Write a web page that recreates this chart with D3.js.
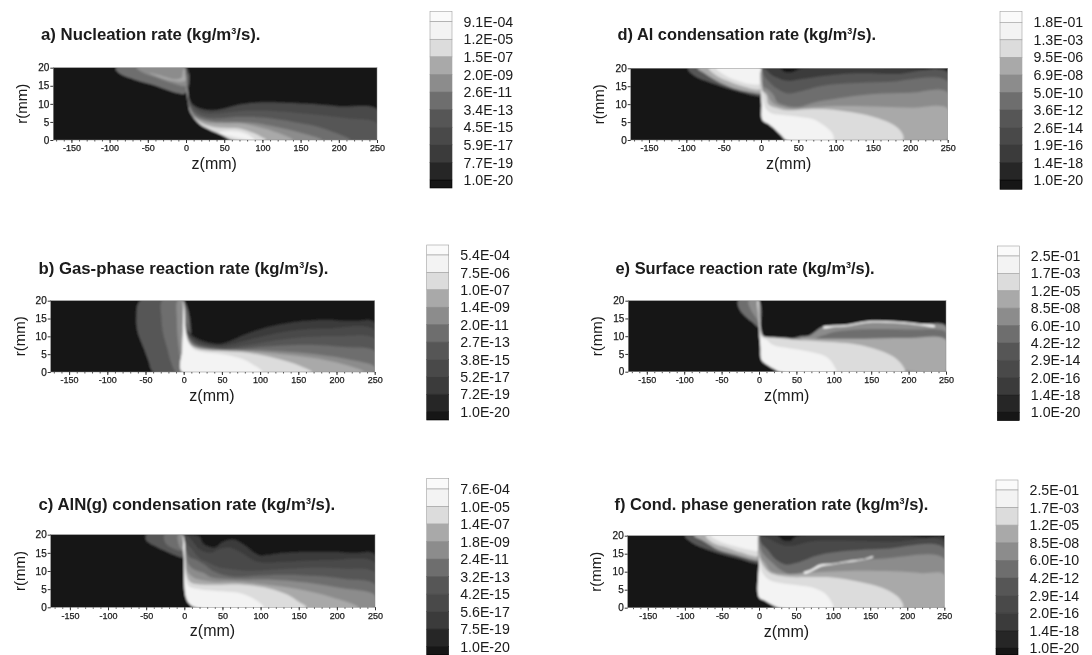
<!DOCTYPE html>
<html>
<head>
<meta charset="utf-8">
<script src="https://cdn.jsdelivr.net/npm/d3@7"></script>
<style>
  html, body { margin: 0; background: #fff; }
  text { font-family: "Liberation Sans", Arial, sans-serif; fill: #1a1a1a; }
</style>
</head>
<body>
<div id="chart"></div>
<script>
const zTicks = [-150, -100, -50, 0, 50, 100, 150, 200, 250];
const zMinor = d3.range(-170, 251, 10);
const rTicks = [0, 5, 10, 15, 20];

// grey of each band, darkest (below the lowest label) to lightest
const shades = ['#121212', '#252525', '#3b3b3b', '#494949', '#575757', '#6e6e6e', '#8c8c8c', '#a9a9a9', '#dcdcdc', '#f3f3f3', '#fafafa'];

const labelsA = ['9.1E-04', '1.2E-05', '1.5E-07', '2.0E-09', '2.6E-11', '3.4E-13', '4.5E-15', '5.9E-17', '7.7E-19', '1.0E-20'];
const labelsB = ['5.4E-04', '7.5E-06', '1.0E-07', '1.4E-09', '2.0E-11', '2.7E-13', '3.8E-15', '5.2E-17', '7.2E-19', '1.0E-20'];
const labelsC = ['7.6E-04', '1.0E-05', '1.4E-07', '1.8E-09', '2.4E-11', '3.2E-13', '4.2E-15', '5.6E-17', '7.5E-19', '1.0E-20'];
const labelsD = ['1.8E-01', '1.3E-03', '9.5E-06', '6.9E-08', '5.0E-10', '3.6E-12', '2.6E-14', '1.9E-16', '1.4E-18', '1.0E-20'];
const labelsE = ['2.5E-01', '1.7E-03', '1.2E-05', '8.5E-08', '6.0E-10', '4.2E-12', '2.9E-14', '2.0E-16', '1.4E-18', '1.0E-20'];
const labelsF = ['2.5E-01', '1.7E-03', '1.2E-05', '8.5E-08', '6.0E-10', '4.2E-12', '2.9E-14', '2.0E-16', '1.4E-18', '1.0E-20'];

const titleA = 'a) Nucleation rate (kg/m';
const titleB = 'b) Gas-phase reaction rate (kg/m';
const titleC = 'c) AlN(g) condensation rate (kg/m';
const titleD = 'd) Al condensation rate (kg/m';
const titleE = 'e) Surface reaction rate (kg/m';
const titleF = 'f) Cond. phase generation rate (kg/m';

// contours: [band, [[z, r], ...]]
// "front" is the left edge of the burning zone, the "right" contours close along it
const frontA = [[0, 20], [0.5, 16], [2, 13], [3, 10.5], [6, 8], [10, 6.2], [15, 5], [22, 3.8], [30, 3], [38, 2.2], [46, 1.5], [52, 0.8], [60, 0]];
const leftA = [
  [5, [[-92, 20], [-88, 18.5], [-65, 16.5], [-40, 15], [-12, 13], [0, 13], [0, 20]]],
  [6, [[-65, 20], [-55, 18.5], [-35, 17], [-14, 15.5], [0, 15], [0, 20]]],
  [7, [[-48, 18.5], [-30, 17.6], [-15, 16.8], [-6, 17.2], [-3, 19.6], [0, 19.6], [0, 16.5], [-12, 16.2], [-30, 17]]]
];
const rightA = [
  [3, [[1.5, 20], [2.5, 15], [4, 12], [8, 10], [15, 9], [25, 8.4], [40, 8.3], [55, 9], [70, 9.8], [90, 10.3], [120, 10.4], [160, 10], [200, 9.3], [250, 8.5], [250, 0]]],
  [4, [[1.5, 16], [5, 10.5], [12, 8.5], [25, 7.3], [40, 7.3], [55, 7.6], [80, 8.1], [120, 7.9], [170, 7], [210, 6], [250, 4.6], [250, 0]]],
  [5, [[1.5, 15], [5, 9.5], [12, 7.5], [25, 6.2], [45, 6], [70, 6.4], [100, 6.2], [140, 5], [170, 3.8], [195, 2], [215, 0]]],
  [6, [[1, 15], [4, 9.5], [10, 7], [20, 5.8], [40, 5], [60, 5], [90, 4.7], [120, 3.5], [150, 2], [178, 0]]],
  [7, [[1, 15], [3, 10.5], [7, 7.6], [14, 6], [25, 5], [45, 4.6], [70, 4.6], [95, 3.6], [120, 2], [140, 0]]],
  [8, [[0.5, 15], [2.5, 11], [5, 8], [10, 6.3], [20, 4.7], [35, 3.7], [50, 3.4], [70, 3.2], [85, 2.2], [98, 1], [105, 0]]],
  [9, [[42, 2], [60, 2.5], [75, 2], [85, 1], [90, 0]]]
];

const frontB = [[0, 20], [-1, 12], [-2, 6], [-2, 0]];
const leftB = [
  [4, [[-57, 20], [-62, 15], [-60, 11], [-52, 6.5], [-46, 3], [-40, 0], [0, 0], [0, 20]]],
  [5, [[-28, 20], [-29, 15], [-27, 11], [-22, 7], [-17, 3], [-10, 0], [0, 0], [0, 20]]],
  [6, [[-8, 20], [-9, 15], [-8, 10], [-6, 6], [-4, 3], [-3, 0], [0, 0], [0, 20]]]
];
const rightB = [
  [2, [[1, 20], [3, 14], [6, 11.5], [14, 9.8], [30, 8.4], [47, 7.9], [60, 8.6], [80, 10.5], [110, 12.6], [140, 13.9], [180, 14.6], [220, 14.3], [250, 13.9], [250, 0]]],
  [3, [[1, 20], [3, 13.5], [7, 10.5], [15, 9], [30, 7.8], [50, 7.4], [70, 8.2], [100, 9.9], [140, 11.6], [190, 12.3], [250, 11.8], [250, 0]]],
  [4, [[1, 20], [3, 12.5], [7, 10], [15, 8.3], [30, 7.3], [55, 6.8], [80, 7.4], [110, 8.5], [150, 9.6], [200, 10], [250, 9.3], [250, 0]]],
  [5, [[1, 18], [3, 12], [7, 9.6], [15, 7.8], [30, 6.9], [60, 6.4], [90, 6.8], [130, 7.4], [170, 7.6], [210, 7], [250, 5.8], [250, 0]]],
  [6, [[1, 17], [2, 12], [6, 9.5], [14, 7.5], [30, 6.6], [60, 6.1], [100, 6.1], [140, 5.6], [180, 4.8], [215, 3.6], [250, 1.5], [250, 0]]],
  [7, [[1, 16], [2, 11.5], [5, 9], [12, 7.3], [30, 6.4], [70, 6], [105, 5.5], [145, 4.6], [185, 3.4], [215, 1.8], [236, 0]]],
  [8, [[1.5, 14], [4, 9.8], [10, 7.4], [20, 6.4], [50, 5.9], [75, 5.6], [105, 4.6], [135, 3], [155, 1.5], [168, 0]]],
  [9, [[1, 18], [3, 11], [7, 8], [13, 6.4], [25, 5.6], [50, 5], [75, 3.8], [90, 2.2], [103, 0]]]
];

const frontC = [[-2, 20], [-0.5, 14], [0, 7], [2, 3], [6, 1.2], [15, 0]];
const leftC = [
  [4, [[-50, 20], [-50, 18.5], [-40, 17], [-20, 15], [-4, 13.7], [0, 13.7], [0, 20]]],
  [5, [[-26, 20], [-24, 17.5], [-12, 16], [-3, 15.5], [0, 15.5], [0, 20]]],
  [6, [[-8, 20], [-8, 18], [-4, 16], [0, 16], [0, 20]]]
];
const rightC = [
  [2, [[3, 20], [20, 19.5], [25, 17.5], [40, 16.5], [50, 18], [65, 18.7], [80, 17], [92, 15], [100, 14.3], [130, 15], [180, 15.3], [220, 15], [250, 14.5], [250, 0]]],
  [3, [[2, 20], [10, 18.5], [20, 16], [35, 15], [45, 16], [60, 16.5], [75, 15], [90, 13], [100, 12.4], [140, 12.6], [190, 13], [250, 12.3], [250, 0]]],
  [4, [[2, 18], [10, 16], [20, 13.5], [35, 12], [45, 11], [60, 10.5], [85, 10], [120, 10.4], [170, 10.9], [210, 10.6], [250, 9.5], [250, 0]]],
  [5, [[1, 17], [6, 14], [16, 13], [28, 11.5], [35, 10.3], [50, 9], [70, 8.4], [95, 8.7], [130, 9], [175, 8.6], [210, 7.8], [250, 6.3], [250, 0]]],
  [6, [[1, 16], [5, 12], [12, 10.5], [25, 9.5], [35, 8.3], [55, 7.8], [80, 7.6], [115, 7.6], [160, 6.8], [205, 5.3], [250, 3.3], [250, 0]]],
  [7, [[1, 15], [4, 10], [12, 8.2], [22, 7.5], [40, 7], [70, 7], [105, 6.3], [150, 5], [190, 3], [228, 0]]],
  [8, [[1, 14], [3, 9], [8, 7], [16, 6.4], [40, 6.2], [75, 6.3], [105, 5.5], [135, 3.5], [150, 1.5], [160, 0]]],
  [9, [[0.5, 18], [2, 8], [6, 5.8], [20, 5], [50, 4.4], [75, 3.8], [92, 2.2], [104, 0]]]
];

const frontD = [[1, 20], [0, 14], [1, 10], [2, 5.6], [10, 4.5], [20, 2.8], [28, 1.2], [34, 0]];
const leftD = [
  [4, [[-98, 20], [-90, 18], [-60, 15.5], [-30, 13.5], [-6, 12.3], [0, 12.3], [0, 20]]],
  [7, [[-85, 20], [-75, 18.5], [-55, 16], [-30, 14], [-5, 13], [0, 13], [0, 20]]],
  [8, [[-70, 20], [-60, 18], [-45, 16.5], [-25, 15], [0, 14.3], [0, 20]]],
  [9, [[-60, 20], [-50, 18.3], [-35, 16.8], [-15, 15.6], [2, 15.8], [2, 20]]]
];
const rightD = [
  [2, [[3, 20], [25, 20], [32, 19], [42, 19], [55, 20], [200, 20], [225, 19.4], [250, 19.2], [250, 0]]],
  [4, [[4, 20], [12, 18.5], [20, 17.5], [35, 16.5], [55, 17], [90, 18], [130, 18.6], [180, 18.4], [250, 18.8], [250, 0]]],
  [5, [[4, 18], [12, 16], [20, 14.5], [35, 13], [50, 13.4], [80, 15], [120, 15.8], [170, 16.2], [250, 16.3], [250, 0]]],
  [6, [[3, 15], [10, 14], [17, 12.5], [22, 10.5], [35, 9.5], [50, 9.2], [70, 10.4], [100, 11.5], [150, 12.8], [200, 13.2], [250, 13.3], [250, 0]]],
  [7, [[2, 14], [8, 13], [13, 11], [20, 9.8], [33, 9], [45, 8.7], [70, 9.2], [110, 9.5], [160, 9.3], [200, 9], [250, 8.8], [250, 0]]],
  [8, [[1, 14], [7, 12.5], [10, 10], [20, 9], [35, 8.3], [60, 8.6], [90, 8.6], [120, 7.8], [150, 6.5], [175, 4.5], [188, 2.2], [190, 0]]],
  [9, [[1, 13], [4, 10], [7, 8.6], [15, 7.4], [30, 7], [50, 6.5], [70, 5.8], [85, 4], [95, 2], [97, 0]]]
];

const frontE = [[0, 20], [0, 12.7], [2, 7], [3.5, 3.3], [12, 1.8], [20, 0.8], [28, 0]];
const leftE = [
  [5, [[-28, 20], [-26, 17.5], [-18, 15.5], [-8, 13.8], [0, 12.5], [0, 20]]],
  [6, [[-14, 20], [-11, 17.5], [-5, 15.5], [0, 14], [0, 20]]],
  [8, [[-2, 20], [-1.5, 17], [0, 15], [0, 20]]]
];
const rightE = [
  [6, [[0.5, 20], [1.5, 15], [4, 11], [6, 10], [19, 9.7], [35, 9.6], [46, 9.4], [55, 9.9], [68, 10.3], [86, 12.7], [117, 13.1], [144, 14.1], [180, 14.1], [215, 13.4], [250, 12.9], [250, 0]]],
  [5, [[77, 9.4], [90, 10.5], [104, 11.3], [150, 12], [200, 11.9], [250, 11.2], [250, 8.8], [77, 8.8]]],
  [7, [[55, 9.3], [80, 9.3], [140, 9.3], [200, 9.5], [250, 9], [250, 0]]],
  [8, [[0.5, 15], [3, 11], [6, 10], [20, 9.6], [50, 9], [85, 8.5], [135, 7.5], [180, 4.2], [193, 1.4], [195, 0]]],
  [9, [[0.5, 15], [2, 10], [10, 9], [19, 7.5], [40, 6.6], [59, 6], [90, 4.2], [101, 1.4], [103, 0]]]
];
const streakE = [[86, 12.7], [100, 13], [117, 13.2], [144, 14.2], [180, 14.2], [215, 13.5], [235, 13], [235, 12.6], [215, 13.1], [180, 13.8], [144, 13.8], [117, 12.8], [100, 12.6], [86, 12.2]];

const frontF = [[0, 20], [0, 12], [0, 3], [8, 2], [18, 0.8], [28, 0]];
const leftF = [
  [4, [[-100, 20], [-90, 18], [-60, 15.5], [-30, 13.8], [-5, 12.3], [0, 12.3], [0, 20]]],
  [7, [[-88, 20], [-75, 18.5], [-55, 16], [-30, 14.6], [-5, 13.2], [0, 13.2], [0, 20]]],
  [8, [[-72, 20], [-62, 18], [-45, 16.8], [-25, 15.4], [0, 14.4], [0, 20]]],
  [9, [[-65, 20], [-55, 18.6], [-35, 17.2], [-15, 16.2], [2, 16], [2, 20]]]
];
const rightF = [
  [2, [[3, 20], [25, 20], [32, 18.8], [42, 18.6], [52, 20], [200, 20], [225, 19.5], [250, 19.3], [250, 0]]],
  [3, [[4, 20], [15, 19], [30, 17.5], [45, 17.2], [70, 18.4], [120, 18.6], [180, 18.3], [250, 18.2], [250, 0]]],
  [5, [[3, 18], [12, 16], [22, 13.5], [35, 12], [50, 12.4], [80, 14.6], [120, 15.8], [170, 16.4], [250, 16.6], [250, 0]]],
  [6, [[3, 16], [10, 14], [18, 12.5], [30, 10.4], [42, 9.3], [55, 9.6], [85, 11.5], [120, 12.8], [170, 13.7], [250, 13.6], [250, 0]]],
  [7, [[2, 14], [8, 12.5], [14, 10.5], [20, 9.8], [40, 9.3], [70, 9.7], [120, 10.2], [180, 10.1], [220, 9.6], [250, 9.2], [250, 0]]],
  [8, [[1, 14], [5, 12], [15, 9.7], [40, 8.6], [65, 8.5], [100, 8.4], [135, 7.2], [170, 5.2], [190, 2.5], [194, 0]]],
  [9, [[1, 13], [4, 10], [12, 8], [25, 7], [50, 6.3], [75, 5.4], [90, 3.8], [98, 1.5], [100, 0]]]
];
const streakF = [[60, 9.8], [70, 10.6], [82, 12], [100, 12.3], [120, 13], [140, 13.5], [154, 14.3], [154, 14], [138, 13.2], [118, 12.6], [100, 12], [85, 11.5], [72, 10.2], [62, 9.4]];

const panels = [
  { title: titleA, labels: labelsA, front: frontA, left: leftA, right: rightA, streak: null, x0: 53.3, xz: 186, x1: 377, yt: 67.7, yb: 140, lx: 430, lw: 22, lt: 11.7, lb: 188, l0: 21.7, l1: 180, tx: 41, ty: 40, ts: 16.8, labx: 21.5 },
  { title: titleB, labels: labelsB, front: frontB, left: leftB, right: rightB, streak: null, x0: 50.7, xz: 183.7, x1: 374.7, yt: 300.7, yb: 372, lx: 426.7, lw: 22, lt: 245, lb: 420, l0: 255, l1: 411.7, tx: 38.5, ty: 274, ts: 16.75, labx: 19.5 },
  { title: titleC, labels: labelsC, front: frontC, left: leftC, right: rightC, streak: null, x0: 50.7, xz: 184.3, x1: 375, yt: 534.7, yb: 607.3, lx: 426.7, lw: 22, lt: 478.3, lb: 655, l0: 489, l1: 646.7, tx: 38.5, ty: 510, ts: 16.75, labx: 19.5 },
  { title: titleD, labels: labelsD, front: frontD, left: leftD, right: rightD, streak: null, x0: 630.7, xz: 761, x1: 947.7, yt: 68.3, yb: 140, lx: 1000, lw: 22, lt: 11.7, lb: 189.3, l0: 22.3, l1: 180, tx: 617.5, ty: 40, ts: 16.4, labx: 599 },
  { title: titleE, labels: labelsE, front: frontE, left: leftE, right: rightE, streak: streakE, x0: 628.3, xz: 759, x1: 946, yt: 300.7, yb: 371.7, lx: 997.3, lw: 22, lt: 246, lb: 420.7, l0: 256, l1: 412.3, tx: 615.5, ty: 274, ts: 16.4, labx: 596.5 },
  { title: titleF, labels: labelsF, front: frontF, left: leftF, right: rightF, streak: streakF, x0: 627.7, xz: 759, x1: 944.3, yt: 535.7, yb: 607.7, lx: 996, lw: 22, lt: 480, lb: 655, l0: 490, l1: 648.3, tx: 614.5, ty: 510, ts: 16.4, labx: 596 }
];

const width = 1092;
const height = 655;

const svg = d3.select('#chart')
  .append('svg')
  .attr('width', width)
  .attr('height', height)
  .style('display', 'block');

const defs = svg.append('defs');
defs.append('filter').attr('id', 'soft').attr('x', '-5%').attr('y', '-5%').attr('width', '110%').attr('height', '110%')
  .append('feGaussianBlur').attr('stdDeviation', 1);
defs.append('filter').attr('id', 'softText')
  .attr('filterUnits', 'userSpaceOnUse').attr('x', 0).attr('y', 0).attr('width', width).attr('height', height)
  .append('feGaussianBlur').attr('stdDeviation', 0.4);

const shade = d3.scaleOrdinal(d3.range(shades.length), shades);

panels.forEach((p, i) => {
  // z=0 sits at xz, so the two sides share one mm-to-pixel ratio
  const pxPerMm = (p.x1 - p.xz) / 250;
  const x = d3.scaleLinear().domain([-(p.xz - p.x0) / pxPerMm, 250]).range([p.x0, p.x1]);
  const y = d3.scaleLinear().domain([0, 20]).range([p.yb, p.yt]);
  const line = d3.line().x(d => x(d[0])).y(d => y(d[1])).curve(d3.curveCatmullRomClosed.alpha(0.5));

  const g = svg.append('g');

  defs.append('clipPath').attr('id', 'clip' + i)
    .append('rect').attr('x', p.x0).attr('y', p.yt).attr('width', p.x1 - p.x0).attr('height', p.yb - p.yt);

  const field = g.append('g').attr('clip-path', `url(#clip${i})`).append('g').attr('filter', 'url(#soft)');
  field.append('rect')
    .attr('x', p.x0 - 5).attr('y', p.yt - 5)
    .attr('width', p.x1 - p.x0 + 10).attr('height', p.yb - p.yt + 10)
    .attr('fill', shade(0));

  field.selectAll('path.left').data(p.left).join('path')
    .attr('class', 'left')
    .attr('d', d => line(d[1]))
    .attr('fill', d => shade(d[0]));

  const backFront = p.front.slice().reverse();
  field.selectAll('path.right').data(p.right).join('path')
    .attr('class', 'right')
    .attr('d', d => {
      // contours that end on the axis or at the far edge close along the front;
      // a contour that starts away from the front (the band in panel e) is an island
      const nearFront = d[1][0][0] < 20;
      return line(nearFront ? d[1].concat(backFront) : d[1]);
    })
    .attr('fill', d => shade(d[0]));

  if (p.streak) {
    field.append('path').attr('d', line(p.streak)).attr('fill', shade(9));
  }

  g.append('rect')
    .attr('x', p.x0).attr('y', p.yt)
    .attr('width', p.x1 - p.x0).attr('height', p.yb - p.yt)
    .attr('fill', 'none').attr('stroke', '#8a8a8a').attr('stroke-width', 0.5);

  const axes = g.append('g').attr('filter', 'url(#softText)');

  axes.append('g')
    .attr('transform', `translate(0,${p.yb})`)
    .call(d3.axisBottom(x).tickValues(zMinor).tickSize(1.5).tickFormat(''))
    .call(a => a.select('.domain').remove())
    .call(a => a.selectAll('line').attr('stroke', '#555'));

  axes.append('g')
    .attr('transform', `translate(0,${p.yb})`)
    .call(d3.axisBottom(x).tickValues(zTicks).tickSize(3).tickPadding(2).tickFormat(d => String(d)))
    .call(a => a.select('.domain').remove())
    .call(a => a.selectAll('line').attr('stroke', '#333'))
    .call(a => a.selectAll('text').attr('font-size', 9).style('stroke', '#1a1a1a').style('stroke-width', 0.25));

  axes.append('g')
    .attr('transform', `translate(${p.x0},0)`)
    .call(d3.axisLeft(y).tickValues(rTicks).tickSize(3).tickPadding(1))
    .call(a => a.select('.domain').remove())
    .call(a => a.selectAll('line').attr('stroke', '#333'))
    .call(a => a.selectAll('text').attr('font-size', 10).style('stroke', '#1a1a1a').style('stroke-width', 0.25));

  axes.append('text')
    .attr('x', x(37)).attr('y', p.yb + 29)
    .attr('text-anchor', 'middle').attr('font-size', 16)
    .text('z(mm)');

  axes.append('text')
    .attr('transform', `translate(${p.labx},${(p.yt + p.yb) / 2}) rotate(-90)`)
    .attr('dy', '0.35em')
    .attr('text-anchor', 'middle').attr('font-size', 15)
    .text('r(mm)');

  const title = axes.append('text')
    .attr('x', p.tx).attr('y', p.ty)
    .attr('font-size', p.ts).attr('font-weight', 'bold');
  title.append('tspan').text(p.title);
  title.append('tspan').attr('dy', -6).attr('font-size', 9).text('3');
  title.append('tspan').attr('dy', 6).text('/s).');

  // legend: ten labels, eleven grey bands between and beyond them
  const ly = d3.scalePoint().domain(p.labels).range([p.l0, p.l1]);
  const cuts = [p.lt].concat(p.labels.map(l => ly(l)), [p.lb]);
  const bands = d3.range(shades.length).reverse();
  const legend = axes.append('g');
  legend.selectAll('rect').data(bands).join('rect')
    .attr('x', p.lx).attr('width', p.lw)
    .attr('y', (d, j) => cuts[j])
    .attr('height', (d, j) => cuts[j + 1] - cuts[j])
    .attr('fill', d => shade(d))
    .attr('stroke', d => d >= 8 ? '#a0a0a0' : shade(d))
    .attr('stroke-width', 0.6);
  legend.selectAll('text').data(p.labels).join('text')
    .attr('x', p.lx + p.lw + 11.5)
    .attr('y', d => ly(d))
    .attr('dy', '0.36em')
    .attr('font-size', 14.2)
    .text(d => d);
});
</script>
</body>
</html>
